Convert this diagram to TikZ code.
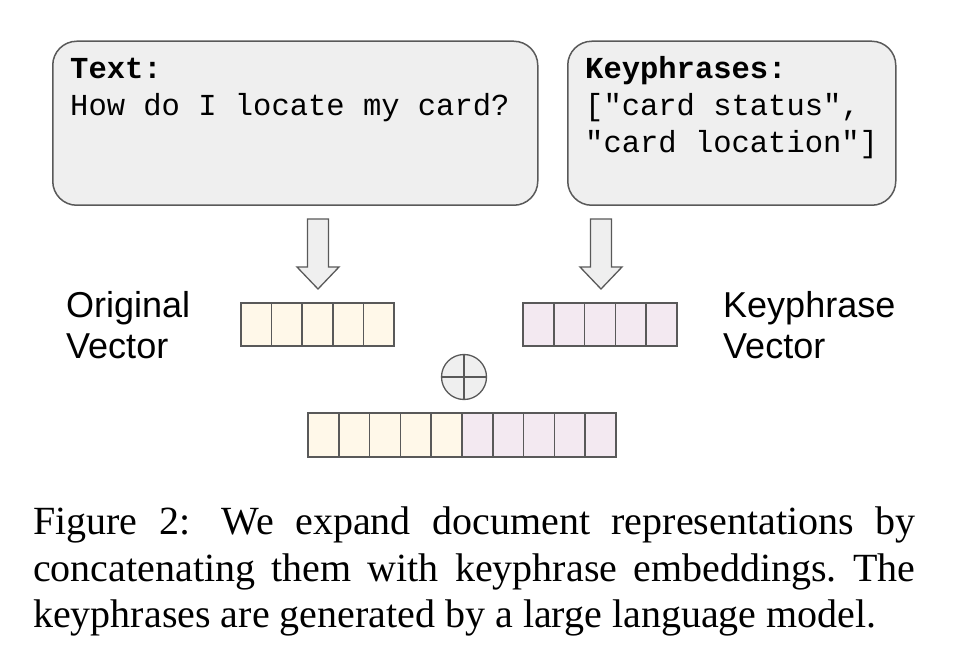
\documentclass[tikz,border=0pt]{standalone}
\usepackage{fontspec}
\setmainfont{Liberation Serif}
\setsansfont{Liberation Sans}
\setmonofont{Liberation Mono}
\usetikzlibrary{calc}
\definecolor{boxgray}{HTML}{EFEFEF}
\definecolor{linegray}{HTML}{595959}
\definecolor{cream}{HTML}{FFF8E9}
\definecolor{lilac}{HTML}{F3E9F1}
\tikzset{
  txtbox/.style={draw=linegray, fill=boxgray, line width=1.5, rounded corners=24, inner sep=0},
  mono/.style={font=\ttfamily\fontsize{30.5}{37}\selectfont, inner sep=0},
  veclabel/.style={font=\sffamily\fontsize{36}{41}\selectfont, inner sep=0},
  blockarrow/.style={draw=linegray, fill=boxgray, line width=1.3},
  cell/.style={draw=linegray, line width=1.5},
}

\begin{document}
\begin{tikzpicture}[x=1pt,y=1pt]
  \useasboundingbox (0,0) rectangle (960,654);
  % text and keyphrase boxes
  \node[txtbox, minimum width=485, minimum height=164, anchor=south west] (textbox) at (52,448) {};
  \node[txtbox, minimum width=328, minimum height=164, anchor=south west] (keybox) at (567,448) {};
  \node[mono, anchor=base west] (textlbl) at (70,575) {\textbf{Text:}};
  \node[mono, anchor=base west] (textq) at (70,538) {How do I locate my card?};
  \node[mono, anchor=base west] (keylbl) at (585,575) {\textbf{Keyphrases:}};
  \node[mono, anchor=base west] (keyone) at (585,538) {["card status",};
  \node[mono, anchor=base west] (keytwo) at (585,501) {"card location"]};
  % arrows down
  \draw[blockarrow] (307.5,435) --++ (0,-48) --++ (-10.5,0) --++ (21,-22) --++ (21,22) --++ (-10.5,0) --++ (0,48) -- cycle;
  \draw[blockarrow] (590.5,435) --++ (0,-48) --++ (-10.5,0) --++ (21,-22) --++ (21,22) --++ (-10.5,0) --++ (0,48) -- cycle;
  % vectors
  \foreach \i in {0,...,4} {
    \draw[cell, fill=cream] (241+\i*30.6,308) rectangle ++(30.6,43);
    \draw[cell, fill=lilac] (523+\i*30.8,308) rectangle ++(30.8,43);
    \draw[cell, fill=cream] (308+\i*30.8,197) rectangle ++(30.8,44);
    \draw[cell, fill=lilac] (462+\i*30.8,197) rectangle ++(30.8,44);
  }
  \node[veclabel, anchor=base west] (origone) at (66,337) {Original};
  \node[veclabel, anchor=base west] (origtwo) at (66,296) {Vector};
  \node[veclabel, anchor=base west] (keyvone) at (723,337) {Keyphrase};
  \node[veclabel, anchor=base west] (keyvtwo) at (723,296) {Vector};
  % concatenation
  \node[circle, draw=linegray, fill=boxgray, line width=1.3, minimum size=45, inner sep=0] (oplus) at (464,277) {};
  \draw[linegray, line width=1.3] (oplus.north) -- (oplus.south) (oplus.west) -- (oplus.east);
  % caption
  \node[anchor=north west, text width=882, align=justify, inner sep=0, font=\fontsize{40}{46.5}\selectfont\frenchspacing] (caption) at (33,147)
    {Figure 2:\hspace{0.25em} We expand document representations by\linebreak concatenating them with keyphrase embeddings. The\linebreak keyphrases are generated by a large language model.};
\end{tikzpicture}
\end{document}
